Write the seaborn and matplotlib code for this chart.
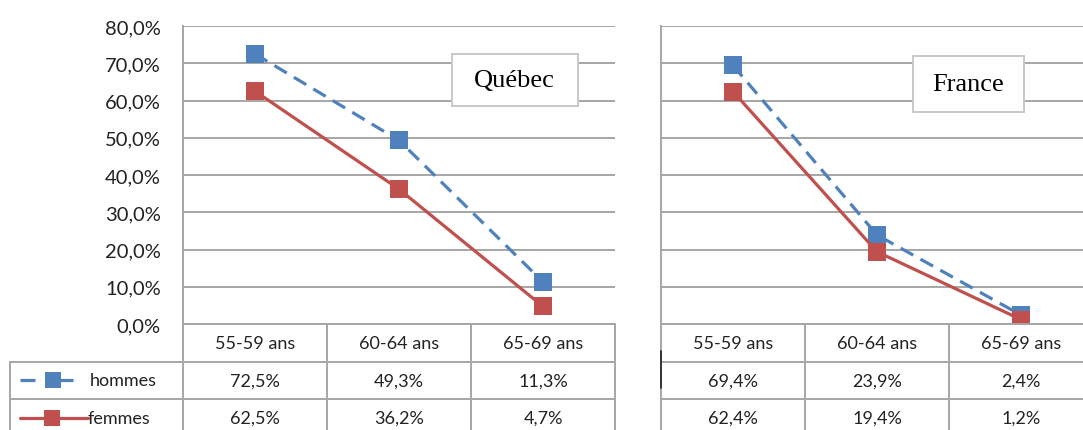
import matplotlib
matplotlib.use("Agg")
import matplotlib.pyplot as plt
import seaborn as sns
import pandas as pd
from matplotlib.patches import Rectangle

# data
tranches = ["55-59 ans", "60-64 ans", "65-69 ans"]
series = ["hommes", "femmes"]
quebec_hommes = [72.5, 49.3, 11.3]
quebec_femmes = [62.5, 36.2, 4.7]
france_hommes = [69.4, 23.9, 2.4]
france_femmes = [62.4, 19.4, 1.2]
y_ticks = [0, 10, 20, 30, 40, 50, 60, 70, 80]

BLUE = "#4F81BD"
RED = "#C0504D"
GRID = "#A6A6A6"
TXT = "#222222"
W, H = 1083, 431
MS = 13

sns.set_style("white")
plt.rcParams["font.family"] = ["Lato", "DejaVu Sans"]

fig = plt.figure(figsize=(W / 100, H / 100), dpi=100)


def px_axes(x0, y0, x1, y1):
    """Axes placed by pixel box (top-left origin)."""
    return fig.add_axes([x0 / W, (H - y1) / H, (x1 - x0) / W, (y1 - y0) / H])


def fmt(v):
    return ("%.1f%%" % v).replace(".", ",")


def draw_panel(x0, hommes, femmes, title, box, show_y):
    ax = px_axes(x0, 27, x0 + 432, 325)
    df = pd.DataFrame({
        "tranche": tranches * 2,
        "valeur": hommes + femmes,
        "sexe": ["hommes"] * 3 + ["femmes"] * 3,
    })
    sns.lineplot(data=df, x="tranche", y="valeur", hue="sexe", style="sexe",
                 palette={"hommes": BLUE, "femmes": RED},
                 dashes={"hommes": (4.5, 2.6), "femmes": ""},
                 markers={"hommes": "s", "femmes": "s"},
                 markersize=MS, markeredgewidth=0, linewidth=2.3,
                 legend=False, sort=False, ax=ax, zorder=3)
    ax.set_xlim(-0.5, 2.5)
    ax.set_ylim(0, 80)
    ax.set_yticks(y_ticks)
    ax.yaxis.grid(True, color=GRID, linewidth=1.4)
    ax.set_xticks([])
    ax.set_xlabel("")
    ax.set_ylabel("")
    for s in ["top", "right", "bottom"]:
        ax.spines[s].set_visible(False)
    ax.spines["left"].set_color(GRID)
    ax.spines["left"].set_linewidth(1.4)
    if show_y:
        ax.set_yticklabels([fmt(t) for t in y_ticks], fontsize=14.5,
                           color=TXT)
        ax.tick_params(axis="y", length=0, pad=16)
    else:
        ax.set_yticklabels([])
        ax.tick_params(axis="y", length=0)

    # title box
    cx, cy, bw, bh = box
    ax.add_patch(Rectangle((cx - bw / 2, cy - bh / 2), bw, bh,
                           transform=ax.transAxes, fc="white", ec="#C8C8C8",
                           lw=1.4, zorder=4))
    ax.text(cx, cy, title, transform=ax.transAxes, ha="center",
            va="center", fontsize=19, family="Liberation Serif",
            color="black", zorder=5)

    # data table underneath
    tb = px_axes(x0, 325, x0 + 432, 431)
    tb.set_xlim(-0.5, 2.5)
    tb.set_ylim(106 / 37.5, 0)
    tb.axis("off")
    for xv in [-0.5, 0.5, 1.5, 2.5]:
        if xv == 2.5 and not show_y:
            continue
        tb.plot([xv, xv], [0, 3], color=GRID, lw=1.4, clip_on=False)
    left = -0.5 - 173 / 144 if show_y else -0.5
    for yv in [0, 1, 2]:
        x_start = -0.5 if yv == 0 else left
        tb.plot([x_start, 2.5], [yv, yv], color=GRID, lw=1.4, clip_on=False)
    for i, t in enumerate(tranches):
        tb.text(i, 0.5, t, ha="center", va="center", fontsize=13,
                color=TXT)
    for r, vals in enumerate([hommes, femmes]):
        for i, v in enumerate(vals):
            tb.text(i, r + 1.5, fmt(v), ha="center", va="center",
                    fontsize=13, color=TXT)
    if show_y:
        tb.plot([left, left], [1, 3], color=GRID, lw=1.4, clip_on=False)
        # legend keys in the first column
        u = 1 / 144
        tb.plot([left + 10 * u, left + 25 * u], [1.5, 1.5], color=BLUE,
                lw=2.3, solid_capstyle="butt", clip_on=False)
        tb.plot([left + 50 * u, left + 63 * u], [1.5, 1.5], color=BLUE,
                lw=2.3, solid_capstyle="butt", clip_on=False)
        tb.plot([left + 43 * u], [1.5], "s", color=BLUE, ms=11.5, mew=0,
                clip_on=False)
        tb.plot([left + 10 * u, left + 78 * u], [2.5, 2.5], color=RED,
                lw=2.3, clip_on=False)
        tb.plot([left + 42 * u], [2.5], "s", color=RED, ms=11.5, mew=0,
                clip_on=False)
        tb.text(left + 80 * u, 1.5, series[0], ha="left", va="center",
                fontsize=13, color=TXT)
        tb.text(left + 78 * u, 2.5, series[1], ha="left", va="center",
                fontsize=13, color=TXT)
    else:
        # small dark stroke on the left border, as in the source
        tb.plot([-0.5, -0.5], [0.73, 1.7], color="#202020", lw=1.2,
                clip_on=False, zorder=5)
    return ax


draw_panel(183, quebec_hommes, quebec_femmes, "Québec",
           (0.768, 0.819, 126 / 432, 52 / 298), True)
draw_panel(661, france_hommes, france_femmes, "France",
           (0.711, 0.805, 111 / 432, 56 / 298), False)

fig.savefig("out.png", dpi=100, facecolor="white")
